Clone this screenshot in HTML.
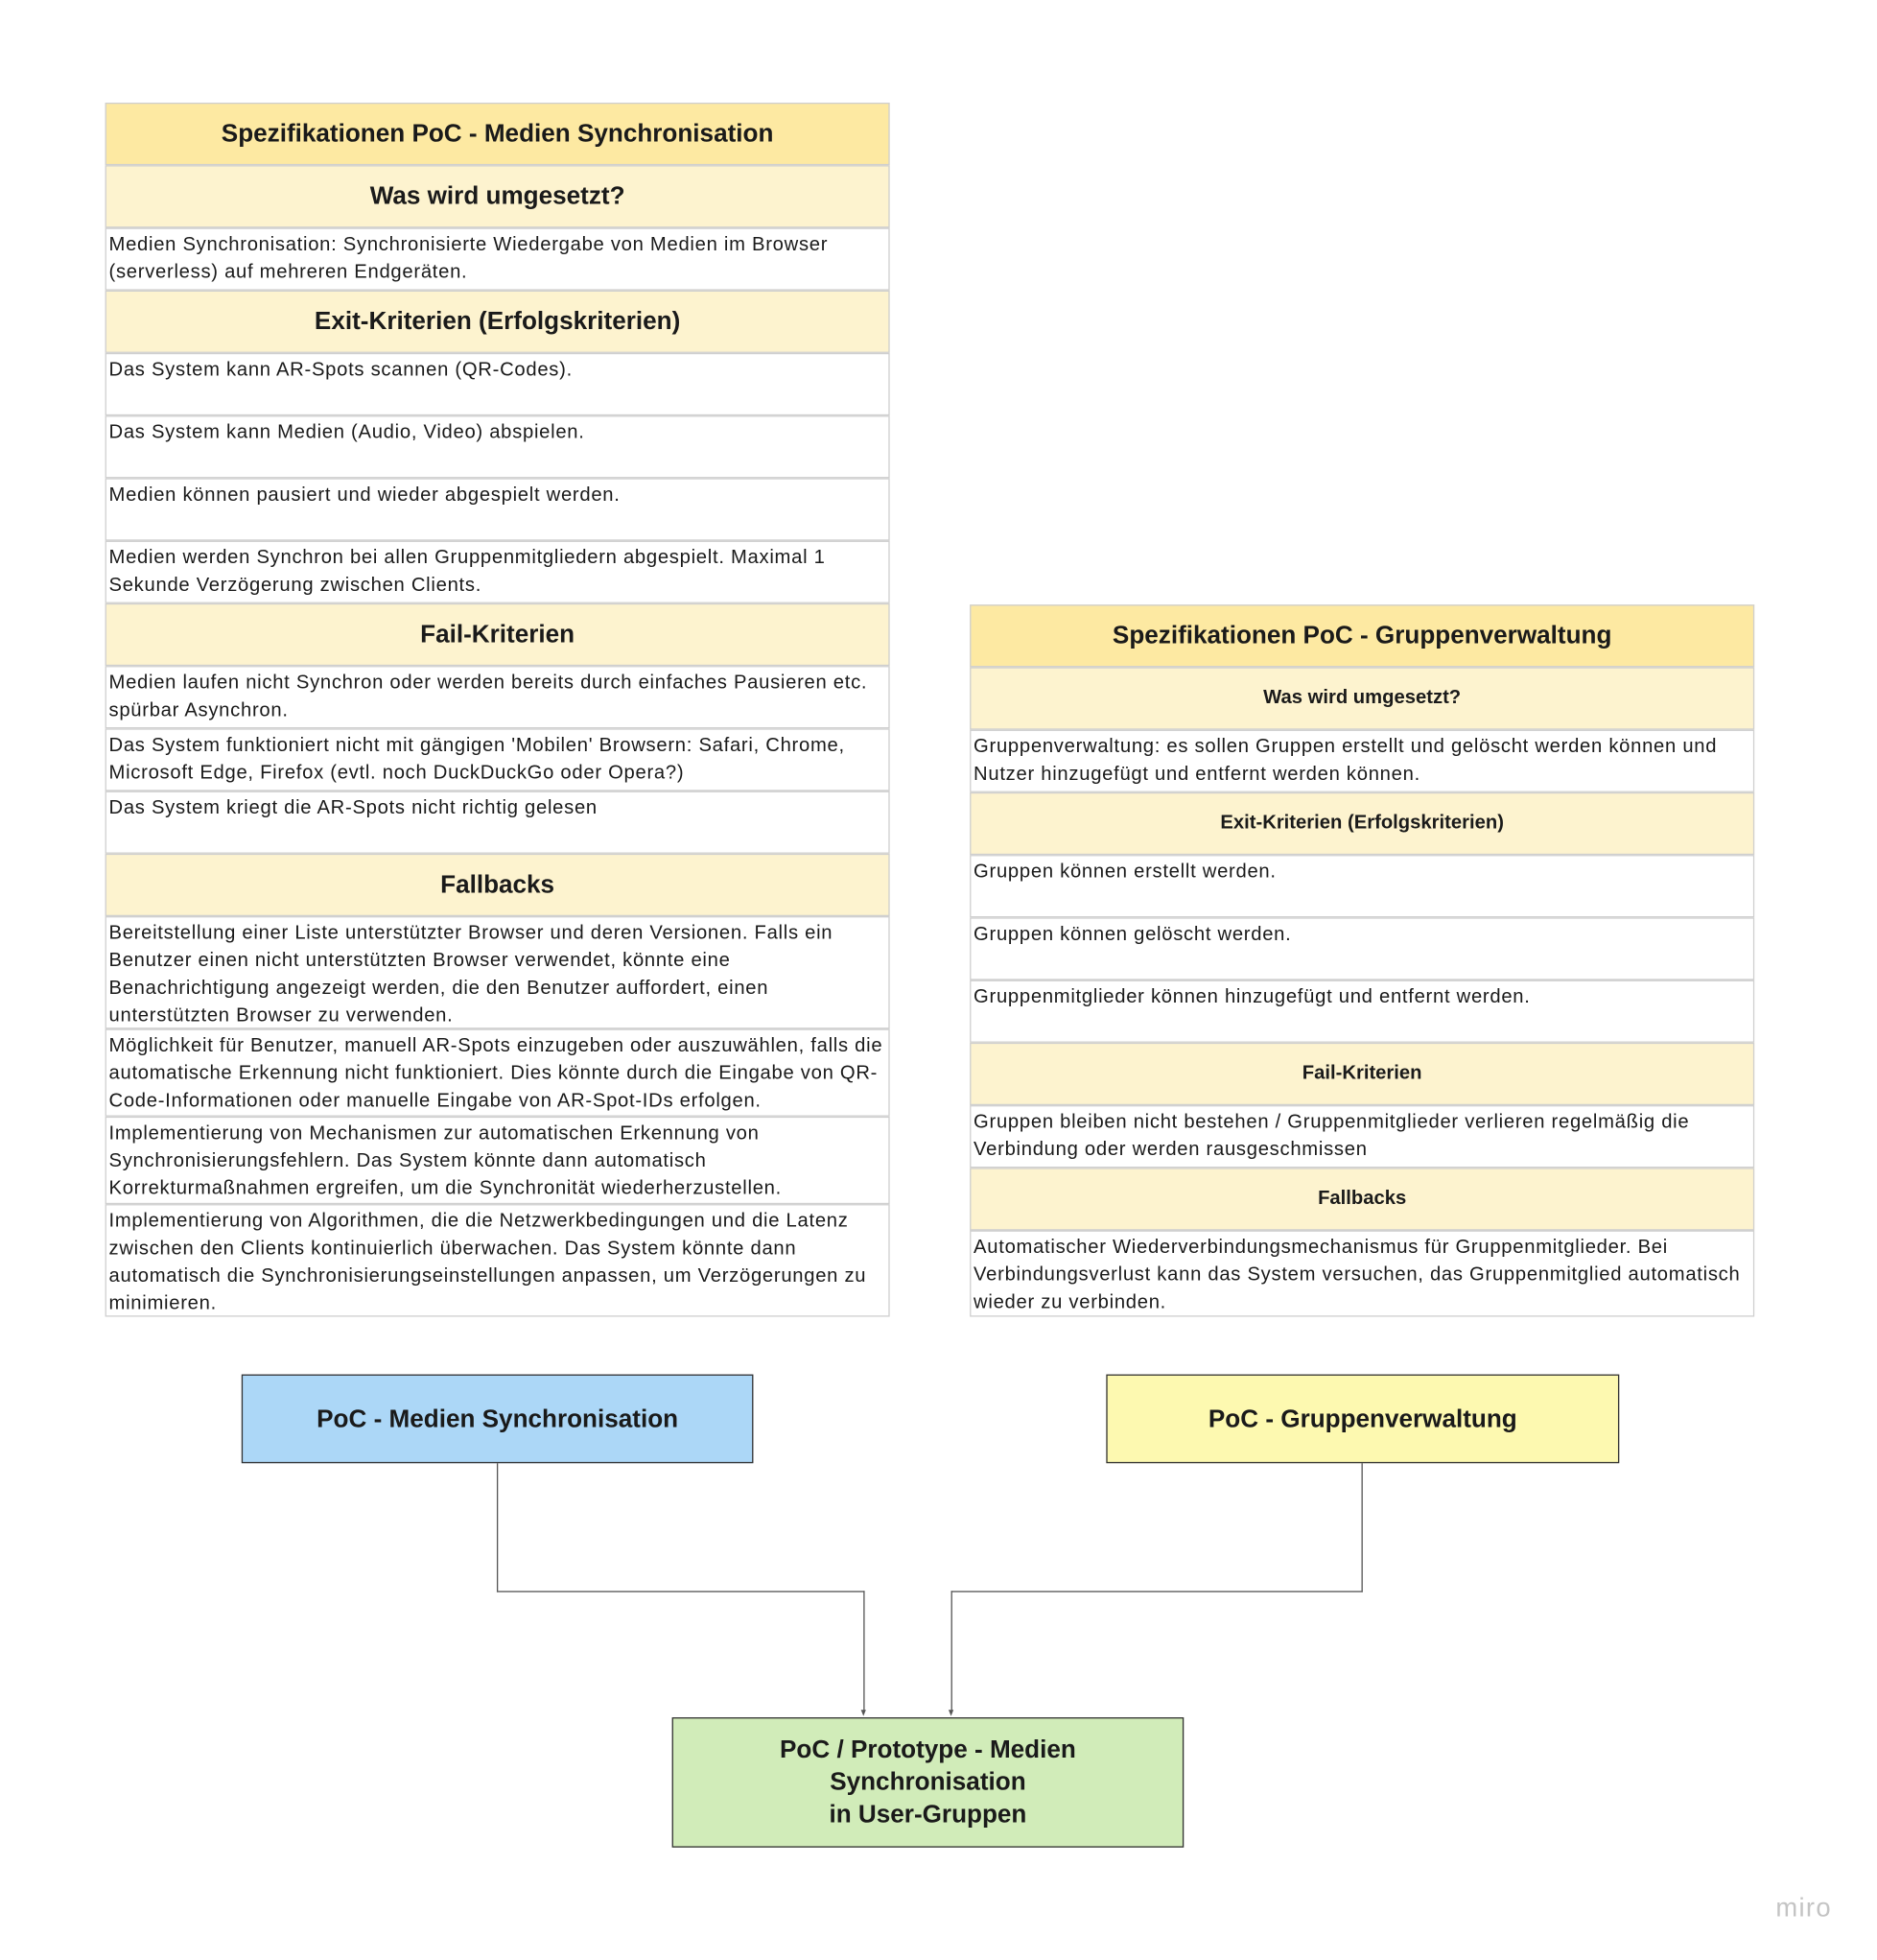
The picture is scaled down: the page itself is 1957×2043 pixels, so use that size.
<!DOCTYPE html>
<html><head><meta charset="utf-8"><style>
html,body{margin:0;padding:0;background:#fff;}
body{width:1957px;height:2043px;overflow:hidden;position:relative;}
#s{position:absolute;left:0;top:0;width:1500px;height:1566px;transform:scale(1.3047);transform-origin:0 0;font-family:"Liberation Sans","DejaVu Sans",sans-serif;color:#1a1a1a;}
.r{position:absolute;box-sizing:border-box;border:1px solid #cfcfcf;margin:0;}
.h{background:#fde9a2;font-weight:bold;font-size:20px;display:flex;align-items:center;justify-content:center;}
.sh{background:#fdf3cf;font-weight:bold;font-size:20px;display:flex;align-items:center;justify-content:center;}
.sh2{background:#fdf3cf;font-weight:bold;font-size:15.5px;display:flex;align-items:center;justify-content:center;}
.t{background:#fff;font-size:15.5px;line-height:22px;padding:2px 2px 0 2px;letter-spacing:0.55px;}
.b{position:absolute;box-sizing:border-box;border:1px solid #333;font-weight:bold;font-size:20px;display:flex;align-items:center;justify-content:center;text-align:center;line-height:26px;}
.l{position:absolute;background:#555;}
</style></head><body><div id="s">
<div class="r h" style="left:84px;top:82px;width:627px;height:50px">Spezifikationen PoC - Medien Synchronisation</div>
<div class="r sh" style="left:84px;top:132px;width:627px;height:50px">Was wird umgesetzt?</div>
<div class="r t" style="left:84px;top:182px;width:627px;height:50px">Medien Synchronisation: Synchronisierte Wiedergabe von Medien im Browser (serverless) auf mehreren Endgeräten.</div>
<div class="r sh" style="left:84px;top:232px;width:627px;height:50px">Exit-Kriterien (Erfolgskriterien)</div>
<div class="r t" style="left:84px;top:282px;width:627px;height:50px">Das System kann AR-Spots scannen (QR-Codes).</div>
<div class="r t" style="left:84px;top:332px;width:627px;height:50px">Das System kann Medien (Audio, Video) abspielen.</div>
<div class="r t" style="left:84px;top:382px;width:627px;height:50px">Medien können pausiert und wieder abgespielt werden.</div>
<div class="r t" style="left:84px;top:432px;width:627px;height:50px">Medien werden Synchron bei allen Gruppenmitgliedern abgespielt. Maximal 1 Sekunde Verzögerung zwischen Clients.</div>
<div class="r sh" style="left:84px;top:482px;width:627px;height:50px">Fail-Kriterien</div>
<div class="r t" style="left:84px;top:532px;width:627px;height:50px">Medien laufen nicht Synchron oder werden bereits durch einfaches Pausieren etc. spürbar Asynchron.</div>
<div class="r t" style="left:84px;top:582px;width:627px;height:50px">Das System funktioniert nicht mit gängigen 'Mobilen' Browsern: Safari, Chrome, Microsoft Edge, Firefox (evtl. noch DuckDuckGo oder Opera?)</div>
<div class="r t" style="left:84px;top:632px;width:627px;height:50px">Das System kriegt die AR-Spots nicht richtig gelesen</div>
<div class="r sh" style="left:84px;top:682px;width:627px;height:50px">Fallbacks</div>
<div class="r t" style="left:84px;top:732px;width:627px;height:90px">Bereitstellung einer Liste unterstützter Browser und deren Versionen. Falls ein Benutzer einen nicht unterstützten Browser verwendet, könnte eine Benachrichtigung angezeigt werden, die den Benutzer auffordert, einen unterstützten Browser zu verwenden.</div>
<div class="r t" style="left:84px;top:822px;width:627px;height:70px">Möglichkeit für Benutzer, manuell AR-Spots einzugeben oder auszuwählen, falls die automatische Erkennung nicht funktioniert. Dies könnte durch die Eingabe von QR-Code-Informationen oder manuelle Eingabe von AR-Spot-IDs erfolgen.</div>
<div class="r t" style="left:84px;top:892px;width:627px;height:70px">Implementierung von Mechanismen zur automatischen Erkennung von Synchronisierungsfehlern. Das System könnte dann automatisch Korrekturmaßnahmen ergreifen, um die Synchronität wiederherzustellen.</div>
<div class="r t" style="left:84px;top:962px;width:627px;height:90px">Implementierung von Algorithmen, die die Netzwerkbedingungen und die Latenz zwischen den Clients kontinuierlich überwachen. Das System könnte dann automatisch die Synchronisierungseinstellungen anpassen, um Verzögerungen zu minimieren.</div>

<div class="r h" style="left:775px;top:483px;width:627px;height:50px">Spezifikationen PoC - Gruppenverwaltung</div>
<div class="r sh2" style="left:775px;top:533px;width:627px;height:50px">Was wird umgesetzt?</div>
<div class="r t" style="left:775px;top:583px;width:627px;height:50px">Gruppenverwaltung: es sollen Gruppen erstellt und gelöscht werden können und Nutzer hinzugefügt und entfernt werden können.</div>
<div class="r sh2" style="left:775px;top:633px;width:627px;height:50px">Exit-Kriterien (Erfolgskriterien)</div>
<div class="r t" style="left:775px;top:683px;width:627px;height:50px">Gruppen können erstellt werden.</div>
<div class="r t" style="left:775px;top:733px;width:627px;height:50px">Gruppen können gelöscht werden.</div>
<div class="r t" style="left:775px;top:783px;width:627px;height:50px">Gruppenmitglieder können hinzugefügt und entfernt werden.</div>
<div class="r sh2" style="left:775px;top:833px;width:627px;height:50px">Fail-Kriterien</div>
<div class="r t" style="left:775px;top:883px;width:627px;height:50px">Gruppen bleiben nicht bestehen / Gruppenmitglieder verlieren regelmäßig die Verbindung oder werden rausgeschmissen</div>
<div class="r sh2" style="left:775px;top:933px;width:627px;height:50px">Fallbacks</div>
<div class="r t" style="left:775px;top:983px;width:627px;height:69px">Automatischer Wiederverbindungsmechanismus für Gruppenmitglieder. Bei Verbindungsverlust kann das System versuchen, das Gruppenmitglied automatisch wieder zu verbinden.</div>

<div class="b" style="left:193px;top:1098px;width:409px;height:71px;background:#acd7f7">PoC - Medien Synchronisation</div>
<div class="b" style="left:884px;top:1098px;width:410px;height:71px;background:#fdf9b0">PoC - Gruppenverwaltung</div>
<div class="b" style="left:537px;top:1372px;width:409px;height:104px;background:#d1ecb9">PoC / Prototype - Medien<br>Synchronisation<br>in User-Gruppen</div>

<div class="l" style="left:397px;top:1169px;width:1px;height:103px"></div>
<div class="l" style="left:397px;top:1271px;width:294px;height:1px"></div>
<div class="l" style="left:690px;top:1271px;width:1px;height:96px"></div>
<div style="position:absolute;left:688px;top:1366px;border-left:2.5px solid transparent;border-right:2.5px solid transparent;border-top:5px solid #555"></div>
<div class="l" style="left:1088px;top:1169px;width:1px;height:103px"></div>
<div class="l" style="left:760px;top:1271px;width:329px;height:1px"></div>
<div class="l" style="left:760px;top:1271px;width:1px;height:96px"></div>
<div style="position:absolute;left:758px;top:1366px;border-left:2.5px solid transparent;border-right:2.5px solid transparent;border-top:5px solid #555"></div>

<div style="position:absolute;left:1419px;top:1513px;font-size:21px;color:#c4c4c4;letter-spacing:1px">miro</div>
</div></body></html>
